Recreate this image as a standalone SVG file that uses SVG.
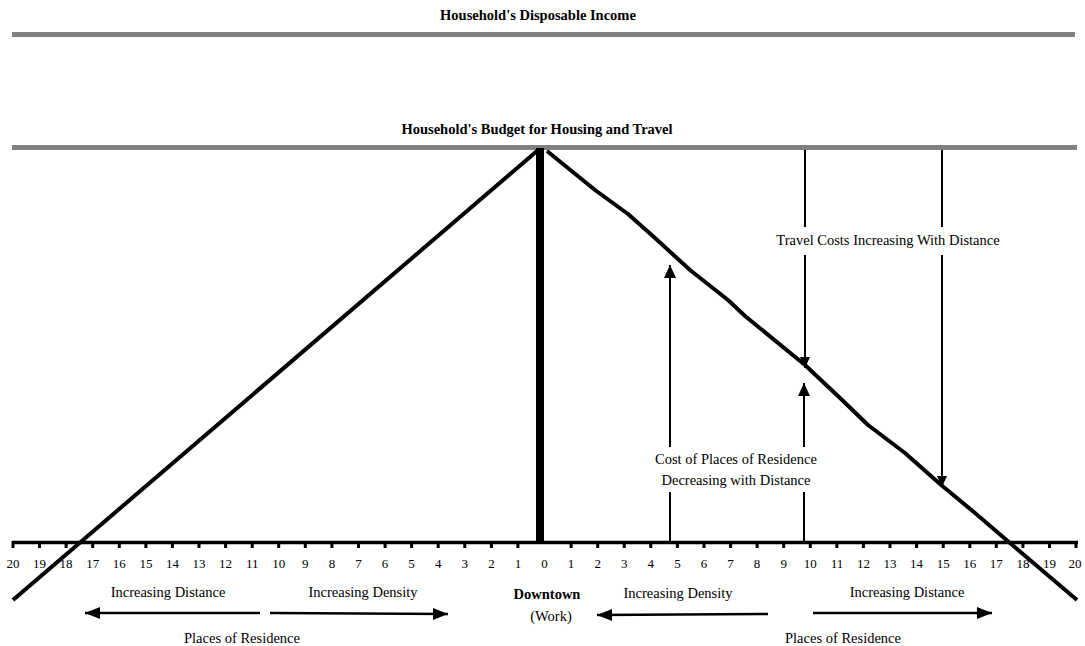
<svg xmlns="http://www.w3.org/2000/svg" width="1085" height="646" viewBox="0 0 1085 646">
<style>
text{font-family:"Liberation Serif","Times New Roman",serif;font-size:14.5px;fill:#000;text-anchor:middle}
.b{font-weight:bold}
.t{font-size:13px}
.gray{stroke:#808080;stroke-width:5;fill:none}
.thin{stroke:#000;stroke-width:2;fill:none}
.mid{stroke:#000;stroke-width:2.5;fill:none}
.curve{stroke:#000;stroke-width:4;fill:none;stroke-linejoin:round}
</style>
<defs>
<marker id="ah" markerUnits="userSpaceOnUse" markerWidth="14" markerHeight="14" viewBox="0 0 14 14" refX="13" refY="7" orient="auto">
<path d="M0,1 L13,7 L0,13 z" fill="#000"/>
</marker>
<marker id="ahs" markerUnits="userSpaceOnUse" markerWidth="12" markerHeight="12" viewBox="0 0 12 12" refX="11" refY="6" orient="auto">
<path d="M0,1 L11,6 L0,11 z" fill="#000"/>
</marker>
<marker id="ahb" markerUnits="userSpaceOnUse" markerWidth="16" markerHeight="14" viewBox="0 0 16 14" refX="15" refY="7" orient="auto">
<path d="M0,1 L15,7 L0,13 z" fill="#000"/>
</marker>
</defs>

<g id="income">
<text class="b" x="538" y="20">Household's Disposable Income</text>
<line class="gray" x1="12" y1="34.5" x2="1075" y2="34.5"/>
</g>

<g id="budget">
<text class="b" x="537" y="134">Household's Budget for Housing and Travel</text>
<line class="gray" x1="12" y1="147.5" x2="1077" y2="147.5"/>
</g>

<g id="axis">
<line x1="12" y1="542.5" x2="1078" y2="542.5" stroke="#000" stroke-width="3.5"/>
<g fill="#000">
<rect x="11.5" y="541" width="3" height="7"/><rect x="38" y="541" width="3" height="7"/><rect x="64.6" y="541" width="3" height="7"/><rect x="91.2" y="541" width="3" height="7"/><rect x="117.8" y="541" width="3" height="7"/><rect x="144.4" y="541" width="3" height="7"/><rect x="170.9" y="541" width="3" height="7"/><rect x="197.5" y="541" width="3" height="7"/><rect x="224.1" y="541" width="3" height="7"/><rect x="250.7" y="541" width="3" height="7"/><rect x="277.2" y="541" width="3" height="7"/><rect x="303.8" y="541" width="3" height="7"/><rect x="330.4" y="541" width="3" height="7"/><rect x="357" y="541" width="3" height="7"/><rect x="383.6" y="541" width="3" height="7"/><rect x="410.1" y="541" width="3" height="7"/><rect x="436.7" y="541" width="3" height="7"/><rect x="463.3" y="541" width="3" height="7"/><rect x="489.9" y="541" width="3" height="7"/><rect x="516.4" y="541" width="3" height="7"/>
<rect x="569.6" y="541" width="3" height="7"/><rect x="596.2" y="541" width="3" height="7"/><rect x="622.7" y="541" width="3" height="7"/><rect x="649.3" y="541" width="3" height="7"/><rect x="675.9" y="541" width="3" height="7"/><rect x="702.5" y="541" width="3" height="7"/><rect x="729.1" y="541" width="3" height="7"/><rect x="755.6" y="541" width="3" height="7"/><rect x="782.2" y="541" width="3" height="7"/><rect x="808.8" y="541" width="3" height="7"/><rect x="835.4" y="541" width="3" height="7"/><rect x="861.9" y="541" width="3" height="7"/><rect x="888.5" y="541" width="3" height="7"/><rect x="915.1" y="541" width="3" height="7"/><rect x="941.7" y="541" width="3" height="7"/><rect x="968.3" y="541" width="3" height="7"/><rect x="994.8" y="541" width="3" height="7"/><rect x="1021.4" y="541" width="3" height="7"/><rect x="1048" y="541" width="3" height="7"/><rect x="1074.5" y="541" width="3" height="7"/>
</g>
<g class="ticks">
<text class="t" x="13" y="568">20</text><text class="t" x="39.5" y="568">19</text><text class="t" x="66.1" y="568">18</text><text class="t" x="92.7" y="568">17</text><text class="t" x="119.3" y="568">16</text><text class="t" x="145.9" y="568">15</text><text class="t" x="172.4" y="568">14</text><text class="t" x="199" y="568">13</text><text class="t" x="225.6" y="568">12</text><text class="t" x="252.2" y="568">11</text><text class="t" x="278.7" y="568">10</text><text class="t" x="305.3" y="568">9</text><text class="t" x="331.9" y="568">8</text><text class="t" x="358.5" y="568">7</text><text class="t" x="385.1" y="568">6</text><text class="t" x="411.6" y="568">5</text><text class="t" x="438.2" y="568">4</text><text class="t" x="464.8" y="568">3</text><text class="t" x="491.4" y="568">2</text><text class="t" x="517.9" y="568">1</text>
<text class="t" x="544.5" y="568">0</text>
<text class="t" x="571.1" y="568">1</text><text class="t" x="597.7" y="568">2</text><text class="t" x="624.2" y="568">3</text><text class="t" x="650.8" y="568">4</text><text class="t" x="677.4" y="568">5</text><text class="t" x="704" y="568">6</text><text class="t" x="730.6" y="568">7</text><text class="t" x="757.1" y="568">8</text><text class="t" x="783.7" y="568">9</text><text class="t" x="810.3" y="568">10</text><text class="t" x="836.9" y="568">11</text><text class="t" x="863.4" y="568">12</text><text class="t" x="890" y="568">13</text><text class="t" x="916.6" y="568">14</text><text class="t" x="943.2" y="568">15</text><text class="t" x="969.8" y="568">16</text><text class="t" x="996.3" y="568">17</text><text class="t" x="1022.9" y="568">18</text><text class="t" x="1049.5" y="568">19</text><text class="t" x="1075" y="568">20</text>
</g>
</g>

<g id="downtown-bar">
<rect x="536" y="148" width="8" height="394" fill="#000"/>
</g>

<g id="curves">
<polyline class="curve" points="537,151 13,600"/>
<polyline class="curve" points="547,151 595,190 628,214 655,238 690,270 728,300 745,316 805,365 840,398 868,425 905,453 940,484 975,513 1010,543 1077,600"/>
</g>

<g id="connectors">
<line class="thin" x1="805" y1="150" x2="805" y2="227"/>
<line class="thin" x1="805" y1="255" x2="805" y2="368" marker-end="url(#ahs)"/>
<line class="thin" x1="942" y1="150" x2="942" y2="227"/>
<line class="thin" x1="942" y1="255" x2="942" y2="487" marker-end="url(#ahs)"/>
<line class="thin" x1="670" y1="543" x2="670" y2="492"/>
<line class="thin" x1="670" y1="447" x2="670" y2="265" marker-end="url(#ah)"/>
<line class="thin" x1="804" y1="543" x2="804" y2="492"/>
<line class="thin" x1="804" y1="447" x2="804" y2="383" marker-end="url(#ah)"/>
<line class="mid" x1="260" y1="613" x2="85" y2="613" marker-end="url(#ahb)"/>
<line class="mid" x1="270" y1="613" x2="448" y2="614" marker-end="url(#ahb)"/>
<line class="mid" x1="768" y1="614" x2="597" y2="615" marker-end="url(#ahb)"/>
<line class="mid" x1="813" y1="613" x2="992" y2="613" marker-end="url(#ahb)"/>
</g>

<g id="travel-label">
<text x="888" y="245">Travel Costs Increasing With Distance</text>
</g>
<g id="cost-label">
<text x="736" y="464">Cost of Places of Residence</text>
<text x="736" y="485">Decreasing with Distance</text>
</g>
<g id="bottom-labels">
<text x="168" y="597">Increasing Distance</text>
<text x="363" y="597">Increasing Density</text>
<text class="b" x="547" y="599">Downtown</text>
<text x="551" y="621">(Work)</text>
<text x="678" y="598">Increasing Density</text>
<text x="907" y="597">Increasing Distance</text>
<text x="242" y="643">Places of Residence</text>
<text x="843" y="643">Places of Residence</text>
</g>
</svg>
